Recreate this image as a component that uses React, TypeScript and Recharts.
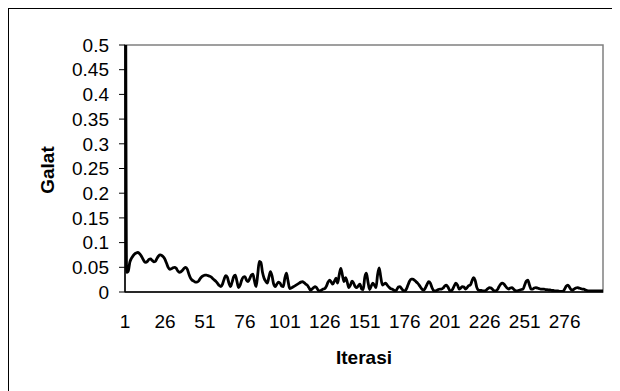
import React from 'react';
import { LineChart, Line, XAxis, YAxis, ReferenceArea } from 'recharts';

const iterations: string[] = Array.from({ length: 300 }, (_, k) => String(k + 1));

const galat: number[] = [
  1.5, 0.040, 0.042, 0.060, 0.068, 0.073, 0.077, 0.079, 0.080, 0.078,
  0.074, 0.068, 0.062, 0.060, 0.062, 0.066, 0.067, 0.064, 0.061, 0.062,
  0.068, 0.073, 0.075, 0.074, 0.071, 0.066, 0.058, 0.050, 0.046, 0.047,
  0.049, 0.050, 0.048, 0.043, 0.040, 0.041, 0.044, 0.048, 0.050, 0.046,
  0.036, 0.028, 0.024, 0.022, 0.020, 0.020, 0.022, 0.027, 0.031, 0.033,
  0.034, 0.034, 0.033, 0.032, 0.030, 0.027, 0.024, 0.021, 0.017, 0.013,
  0.011, 0.016, 0.026, 0.033, 0.030, 0.018, 0.011, 0.020, 0.031, 0.034,
  0.022, 0.009, 0.014, 0.024, 0.030, 0.031, 0.024, 0.021, 0.027, 0.034,
  0.036, 0.022, 0.011, 0.035, 0.062, 0.060, 0.040, 0.028, 0.022, 0.018,
  0.030, 0.041, 0.032, 0.016, 0.011, 0.016, 0.020, 0.018, 0.012, 0.011,
  0.028, 0.038, 0.022, 0.007, 0.008, 0.010, 0.012, 0.014, 0.016, 0.018,
  0.020, 0.021, 0.019, 0.016, 0.014, 0.009, 0.004, 0.006, 0.009, 0.011,
  0.008, 0.003, 0.002, 0.004, 0.006, 0.007, 0.012, 0.020, 0.024, 0.020,
  0.016, 0.022, 0.028, 0.018, 0.035, 0.048, 0.034, 0.021, 0.029, 0.020,
  0.009, 0.014, 0.022, 0.018, 0.011, 0.009, 0.013, 0.016, 0.006, 0.005,
  0.030, 0.038, 0.020, 0.005, 0.012, 0.018, 0.014, 0.009, 0.035, 0.049,
  0.030, 0.014, 0.016, 0.018, 0.014, 0.010, 0.007, 0.006, 0.004, 0.002,
  0.005, 0.010, 0.011, 0.007, 0.003, 0.002, 0.006, 0.014, 0.022, 0.026,
  0.026, 0.024, 0.021, 0.018, 0.014, 0.009, 0.005, 0.004, 0.009, 0.016,
  0.021, 0.018, 0.009, 0.003, 0.002, 0.003, 0.005, 0.006, 0.006, 0.008,
  0.012, 0.014, 0.010, 0.004, 0.002, 0.006, 0.013, 0.018, 0.014, 0.006,
  0.008, 0.011, 0.010, 0.006, 0.009, 0.013, 0.014, 0.022, 0.029, 0.024,
  0.010, 0.004, 0.003, 0.003, 0.002, 0.002, 0.004, 0.007, 0.009, 0.008,
  0.005, 0.002, 0.002, 0.005, 0.011, 0.016, 0.018, 0.016, 0.012, 0.008,
  0.006, 0.008, 0.009, 0.006, 0.003, 0.002, 0.003, 0.004, 0.005, 0.006,
  0.014, 0.022, 0.024, 0.014, 0.006, 0.006, 0.008, 0.009, 0.008, 0.007,
  0.006, 0.006, 0.006, 0.005, 0.005, 0.004, 0.004, 0.003, 0.003, 0.002,
  0.002, 0.002, 0.001, 0.001, 0.001, 0.006, 0.012, 0.014, 0.010, 0.005,
  0.004, 0.006, 0.008, 0.009, 0.008, 0.007, 0.006, 0.006, 0.004, 0.003,
  0.002, 0.002, 0.002, 0.002, 0.002, 0.002, 0.002, 0.002, 0.002, 0.002,
];

const yTicks: number[] = [0, 0.05, 0.1, 0.15, 0.2, 0.25, 0.3, 0.35, 0.4, 0.45, 0.5];

const data = iterations.map((it, k) => ({ iter: it, galat: galat[k] }));

const FONT = '"Liberation Sans", Arial, sans-serif';

export default function App() {
  return (
    <div style={{ width: 612, height: 395, border: '1px solid #000', boxSizing: 'border-box', background: '#fff', fontFamily: FONT }}>
      <style>{`body{overflow:hidden}`}</style>
      <LineChart width={610} height={382} data={data} margin={{ top: 36, right: 16, left: 56, bottom: 39 }}>
        <ReferenceArea x1="1" x2="300" y1={0} y2={0.5} fill="none" stroke="#808080" strokeWidth={1.5} ifOverflow="visible" />
        <XAxis
          dataKey="iter"
          interval={24}
          tickLine={false}
          axisLine={{ stroke: '#000', strokeWidth: 1.5 }}
          tick={{ fill: '#000', fontSize: 19, fontFamily: FONT }}
          tickMargin={17}
          height={60}
          label={{
            content: () => (
              <text x={355} y={348} textAnchor="middle" dominantBaseline="central" fontWeight="bold" fontSize={19} fontFamily={FONT} fill="#000">Iterasi</text>
            ),
          }}
        />
        <YAxis
          domain={[0, 0.5]}
          ticks={yTicks}
          allowDataOverflow
          interval={0}
          width={60}
          tickSize={6}
          tickMargin={10}
          axisLine={{ stroke: '#000', strokeWidth: 1.5 }}
          tickLine={{ stroke: '#000' }}
          tick={{ fill: '#000', fontSize: 19, fontFamily: FONT }}
          label={{
            content: () => (
              <text x={38} y={161} transform="rotate(-90, 38, 161)" textAnchor="middle" dominantBaseline="central" fontWeight="bold" fontSize={19} fontFamily={FONT} fill="#000">Galat</text>
            ),
          }}
        />
        <Line type="monotone" dataKey="galat" stroke="#000" strokeWidth={2.8} dot={false} isAnimationActive={false} />
      </LineChart>
    </div>
  );
}
